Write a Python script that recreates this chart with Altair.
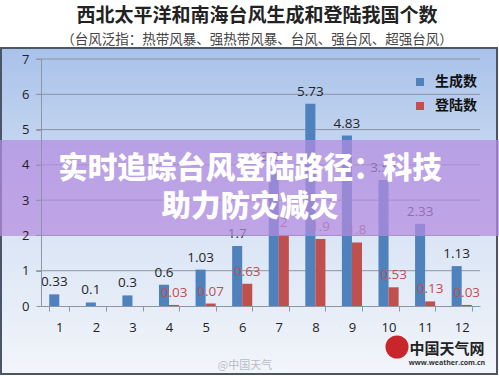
import altair as alt
import pandas as pd

# ---- data ----
months = [str(m) for m in range(1, 13)]
formed = [0.33, 0.1, 0.3, 0.6, 1.03, 1.7, 3.87, 5.73, 4.83, 3.57, 2.33, 1.13]
landed = [0, 0, 0, 0.03, 0.07, 0.63, 2, 1.9, 1.8, 0.53, 0.13, 0.03]
series_names = ["生成数", "登陆数"]
series_colors = ["#4f81bd", "#c0504d"]
label_colors = ["#262626", "#c0504d"]
y_ticks = [0, 1, 2, 3, 4, 5, 6, 7]

title_text = "西北太平洋和南海台风生成和登陆我国个数"
subtitle_text = "（台风泛指：热带风暴、强热带风暴、台风、强台风、超强台风）"
banner_lines = ["实时追踪台风登陆路径：科技", "助力防灾减灾"]
brand_text = "中国天气网"
brand_url = "www.weather.com.cn"
weibo_text = "@中国天气"

rows = []
for m, f, l in zip(months, formed, landed):
    rows.append({"month": m, "series": series_names[0], "value": f,
                 "label": f"{f:g}"})
    rows.append({"month": m, "series": series_names[1], "value": l,
                 "label": f"{l:g}" if l > 0 else ""})
df = pd.DataFrame(rows)
grid_df = pd.DataFrame({"t": y_ticks[1:]})
one = pd.DataFrame({"k": [0]})

W, H = 439, 247
FONT = "Open Sans"
CJK = "Noto Sans CJK SC"

yscale = alt.Scale(domain=[0, 7], nice=False)
xscale = alt.Scale(paddingInner=0.45, paddingOuter=0.225)

x_enc = alt.X("month:N", sort=months, scale=xscale,
              axis=alt.Axis(title=None, labelAngle=0, tickBand="extent",
                            tickSize=5, labelPadding=10, labelFontSize=13,
                            labelFont=FONT, labelColor="#222",
                            domainColor="#8d96a3", tickColor="#8d96a3",
                            zindex=1))
y_axis = alt.Axis(title=None, values=y_ticks, grid=False, tickSize=5,
                  labelPadding=7, labelFontSize=13, labelFont=FONT,
                  labelColor="#222", domainColor="#8d96a3",
                  tickColor="#8d96a3", zindex=1)
xoff = alt.XOffset("series:N", sort=series_names)

bg = alt.Chart(one).mark_rect(
    fill=alt.Gradient(gradient="linear",
                      stops=[alt.GradientStop(color="#a9c2ea", offset=0),
                             alt.GradientStop(color="#d6e2f4", offset=0.5),
                             alt.GradientStop(color="#f2f5fa", offset=1)],
                      x1=0, x2=0, y1=0, y2=1),
    stroke="#4a5668", strokeWidth=2
).encode(x=alt.value(-40), x2=alt.value(456), y=alt.value(-11), y2=alt.value(315))

grid = alt.Chart(grid_df).mark_rule(color="#8d96a3", strokeWidth=1).encode(
    y=alt.Y("t:Q", scale=yscale, axis=y_axis),
    x=alt.value(-5), x2=alt.value(W))

bars = alt.Chart(df).mark_bar().encode(
    x=x_enc, xOffset=xoff,
    y=alt.Y("value:Q", scale=yscale, axis=y_axis),
    color=alt.Color("series:N",
                    scale=alt.Scale(domain=series_names, range=series_colors),
                    legend=alt.Legend(title=None, orient="none", legendX=372,
                                      legendY=16, symbolType="square",
                                      symbolSize=64, symbolStrokeWidth=0,
                                      labelFontSize=14, labelFont=CJK,
                                      labelFontWeight="bold", labelColor="#111",
                                      rowPadding=10, padding=0, labelOffset=8)))

label_layers = []
for name, col in zip(series_names, label_colors):
    label_layers.append(
        alt.Chart(df).transform_filter(alt.datum.series == name)
        .mark_text(dy=-12, fontSize=13.5, font=FONT, color=col)
        .encode(x=x_enc, xOffset=xoff,
                y=alt.Y("value:Q", scale=yscale, axis=y_axis),
                text="label:N"))

band = alt.Chart(one).mark_rect(fill="#b48ce0", opacity=0.72).encode(
    x=alt.value(-41), x2=alt.value(458), y=alt.value(81), y2=alt.value(177))

banner1 = alt.Chart(one).mark_text(text=banner_lines[0], font=CJK, fontSize=29.5,
                                   fontWeight=900, color="white").encode(
    x=alt.value(209), y=alt.value(110))
banner2 = alt.Chart(one).mark_text(text=banner_lines[1], font=CJK, fontSize=29.5,
                                   fontWeight=900, color="white").encode(
    x=alt.value(209), y=alt.value(148))

title = alt.Chart(one).mark_text(text=title_text, font=CJK, fontSize=19,
                                 fontWeight="bold", color="#222").encode(
    x=alt.value(216), y=alt.value(-43))
subtitle = alt.Chart(one).mark_text(text=subtitle_text, font=CJK, fontSize=13.5,
                                    color="#444").encode(
    x=alt.value(216), y=alt.value(-19))

logo = alt.Chart(one).mark_circle(size=530, color="#c8262b", opacity=1).encode(
    x=alt.value(356), y=alt.value(288))
brand = alt.Chart(one).mark_text(text=brand_text, font=CJK, fontSize=15,
                                 fontWeight="bold", color="#222").encode(
    x=alt.value(406), y=alt.value(290))
url = alt.Chart(one).mark_text(text=brand_url, font=FONT, fontSize=7,
                               fontWeight="bold", color="#333").encode(
    x=alt.value(406), y=alt.value(304))
weibo = alt.Chart(one).mark_text(text=weibo_text, font=CJK, fontSize=11,
                                 color="#b8bcc4").encode(
    x=alt.value(204), y=alt.value(307))

chart = alt.layer(bg, grid, bars, *label_layers, band, banner1, banner2,
                  title, subtitle, logo, brand, url, weibo).properties(
    width=W, height=H,
    padding={"left": 41, "top": 59, "right": 19, "bottom": 70},
    autosize="none",
    background="white",
).configure_view(stroke=None)

chart.save("out.html", embed_options={"renderer": "svg", "actions": False})
